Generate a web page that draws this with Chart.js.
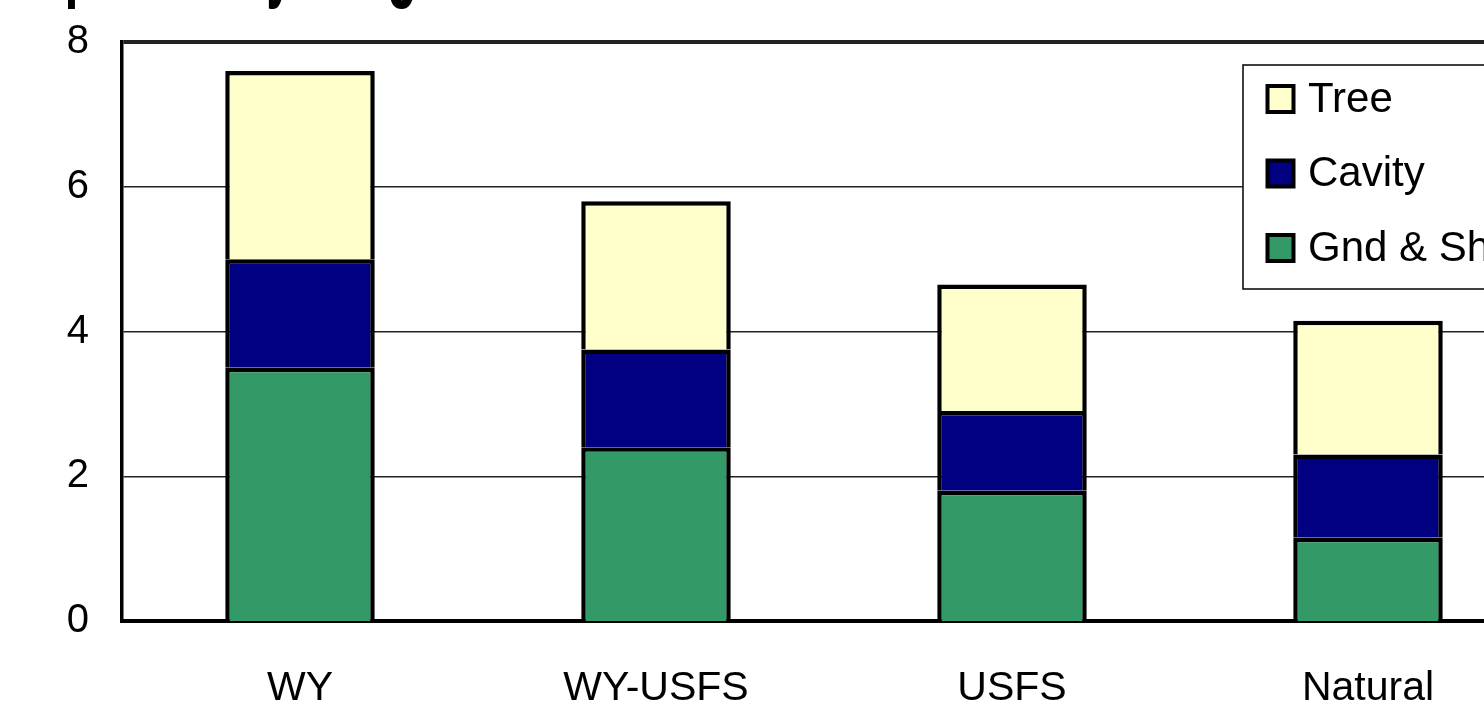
<!DOCTYPE html>
<html>
<head>
<meta charset="utf-8">
<script src="https://cdn.jsdelivr.net/npm/chart.js@4/dist/chart.umd.min.js"></script>
<style>
  html, body { margin: 0; padding: 0; background: #fff; overflow: hidden; width: 1484px; height: 714px; }
  #wrap { position: relative; width: 1484px; height: 714px; overflow: hidden; }
  #c { position: absolute; left: 0; top: 0; }
  #title {
    position: absolute; left: 31px; top: -92px; margin: 0;
    font-family: 'Liberation Sans', Arial, sans-serif; font-weight: bold;
    font-size: 96px; line-height: 96px; color: #000; white-space: nowrap;
    transform: scaleX(0.525); transform-origin: 0 0;
  }
</style>
</head>
<body>
<div id="wrap">
  <canvas id="c" width="1560" height="714"></canvas>
  <h1 id="title">Species by Stage</h1>
</div>
<script>
const categories = ['WY', 'WY-USFS', 'USFS', 'Natural'];
const seriesNames = ['Gnd & Shrub', 'Cavity', 'Tree'];
const gndShrub = [3.5, 2.4, 1.8, 1.15];
const cavity = [1.5, 1.35, 1.1, 1.15];
const tree = [2.6, 2.05, 1.75, 1.85];
const yTicks = [0, 2, 4, 6, 8];
const colors = ['#339966', '#000080', '#FFFFCC'];

const FONT = "'Liberation Sans', Arial, sans-serif";

const boxLegend = {
  id: 'boxLegend',
  afterDraw(chart) {
    const ctx = chart.ctx;
    const a = chart.chartArea;
    const x0 = a.right - 303, y0 = a.top + 23, h = 224;
    ctx.save();
    ctx.fillStyle = '#fff';
    ctx.fillRect(x0, y0, 400, h);
    ctx.strokeStyle = '#000';
    ctx.lineWidth = 1.5;
    ctx.strokeRect(x0, y0, 400, h);
    const ds = chart.data.datasets.slice().reverse();
    ds.forEach((d, i) => {
      const cy = y0 + 34 + i * 74.5;
      ctx.fillStyle = d.backgroundColor;
      ctx.fillRect(x0 + 24.5, cy - 13, 26, 26);
      ctx.lineWidth = 4;
      ctx.strokeStyle = '#000';
      ctx.strokeRect(x0 + 24.5, cy - 13, 26, 26);
      ctx.fillStyle = '#000';
      ctx.font = '42px ' + FONT;
      ctx.textAlign = 'left';
      ctx.textBaseline = 'middle';
      ctx.fillText(d.label, x0 + 65, cy + 1);
    });
    ctx.restore();
  }
};

const seriesData = [gndShrub, cavity, tree];
new Chart(document.getElementById('c'), {
  type: 'bar',
  data: {
    labels: categories,
    datasets: seriesNames.map((name, i) => ({
      label: name,
      data: seriesData[i],
      backgroundColor: colors[i],
      borderColor: '#000',
      borderWidth: 4.5,
      categoryPercentage: 0.42,
      barPercentage: 1
    }))
  },
  options: {
    responsive: false,
    animation: false,
    devicePixelRatio: 1,
    layout: { padding: { top: 42, right: 14, left: 0, bottom: 0 } },
    plugins: { legend: { display: false }, tooltip: { enabled: false } },
    scales: {
      x: {
        stacked: true,
        grid: { display: false, drawTicks: false },
        border: { color: '#000', width: 4 },
        ticks: { color: '#000', font: { family: FONT, size: 41 }, padding: 43 },
        afterFit: s => { s.height = 93; }
      },
      y: {
        stacked: true,
        min: 0, max: 8,
        afterBuildTicks: s => { s.ticks = yTicks.map(v => ({ value: v })); },
        ticks: { color: '#000', font: { family: FONT, size: 40 }, padding: 33 },
        grid: {
          drawTicks: false,
          color: '#222',
          lineWidth: c => (c.tick && c.tick.value === 8) ? 4 : ((c.tick && c.tick.value === 0) ? 0 : 1.5)
        },
        border: { color: '#000', width: 3.5 },
        afterFit: s => { s.width = 122; s.paddingTop = 0; s.paddingBottom = 0; }
      }
    }
  },
  plugins: [boxLegend]
});
</script>
</body>
</html>
